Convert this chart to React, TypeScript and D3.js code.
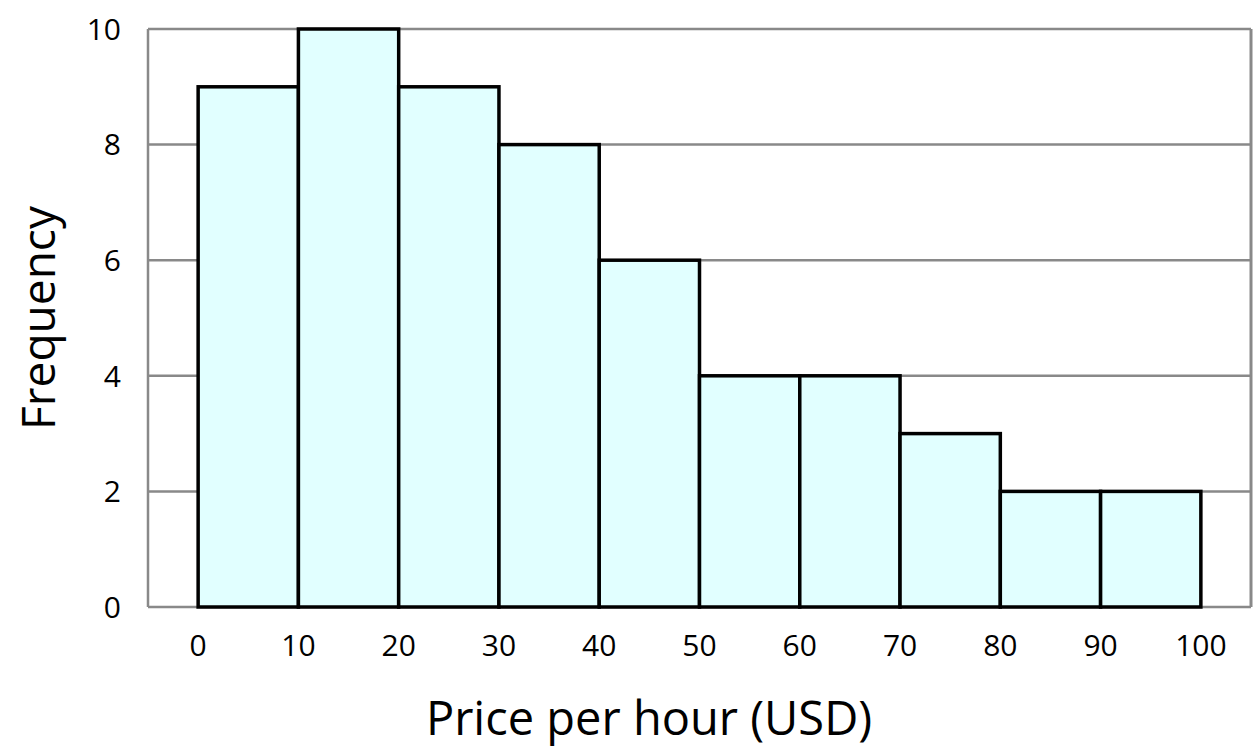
import React from "react";
import * as d3 from "d3";

const binStarts = [0, 10, 20, 30, 40, 50, 60, 70, 80, 90];
const binWidth = 10;
const frequencies = [9, 10, 9, 8, 6, 4, 4, 3, 2, 2];
const xTicks = [0, 10, 20, 30, 40, 50, 60, 70, 80, 90, 100];
const yTicks = [0, 2, 4, 6, 8, 10];
const xTitle = "Price per hour (USD)";
const yTitle = "Frequency";

const W = 1255;
const H = 751;
const M = { left: 148, right: 1251, top: 29, bottom: 607 };

export default function App() {
  const x = d3.scaleLinear().domain([-5, 105]).range([M.left, M.right]);
  const y = d3.scaleLinear().domain([0, 10]).range([M.bottom, M.top]);
  const font = "'Open Sans', sans-serif";
  const grid = "#898989";
  return (
    <svg width={W} height={H} style={{ position: "absolute", left: 0, top: 0, background: "#fff" }}>
      {yTicks.map((t) => (
        <line key={"g" + t} x1={M.left} x2={M.right} y1={y(t)} y2={y(t)} stroke={grid} strokeWidth={2.5} />
      ))}
      <line x1={M.left} x2={M.left} y1={M.top} y2={M.bottom} stroke={grid} strokeWidth={2.5} />
      <line x1={M.right} x2={M.right} y1={M.top} y2={M.bottom} stroke={grid} strokeWidth={3} />
      {binStarts.map((s, i) => (
        <rect
          key={"b" + i}
          x={x(s)}
          y={y(frequencies[i])}
          width={x(s + binWidth) - x(s)}
          height={y(0) - y(frequencies[i])}
          fill="#e1ffff"
          stroke="#000"
          strokeWidth={3.5}
        />
      ))}
      {yTicks.map((t) => (
        <text key={"yl" + t} x={121} y={y(t)} dy="0.36em" textAnchor="end" fontFamily={font} fontSize={30} fill="#000">
          {t}
        </text>
      ))}
      {xTicks.map((t) => (
        <text key={"xl" + t} x={x(t)} y={645} dy="0.36em" textAnchor="middle" fontFamily={font} fontSize={30} fill="#000">
          {t}
        </text>
      ))}
      <text x={649} y={718} dy="0.36em" textAnchor="middle" fontFamily={font} fontSize={47} fill="#000">
        {xTitle}
      </text>
      <text
        transform={`translate(38, 318) rotate(-90)`}
        dy="0.36em"
        textAnchor="middle"
        fontFamily={font}
        fontSize={46}
        fill="#000"
      >
        {yTitle}
      </text>
    </svg>
  );
}
